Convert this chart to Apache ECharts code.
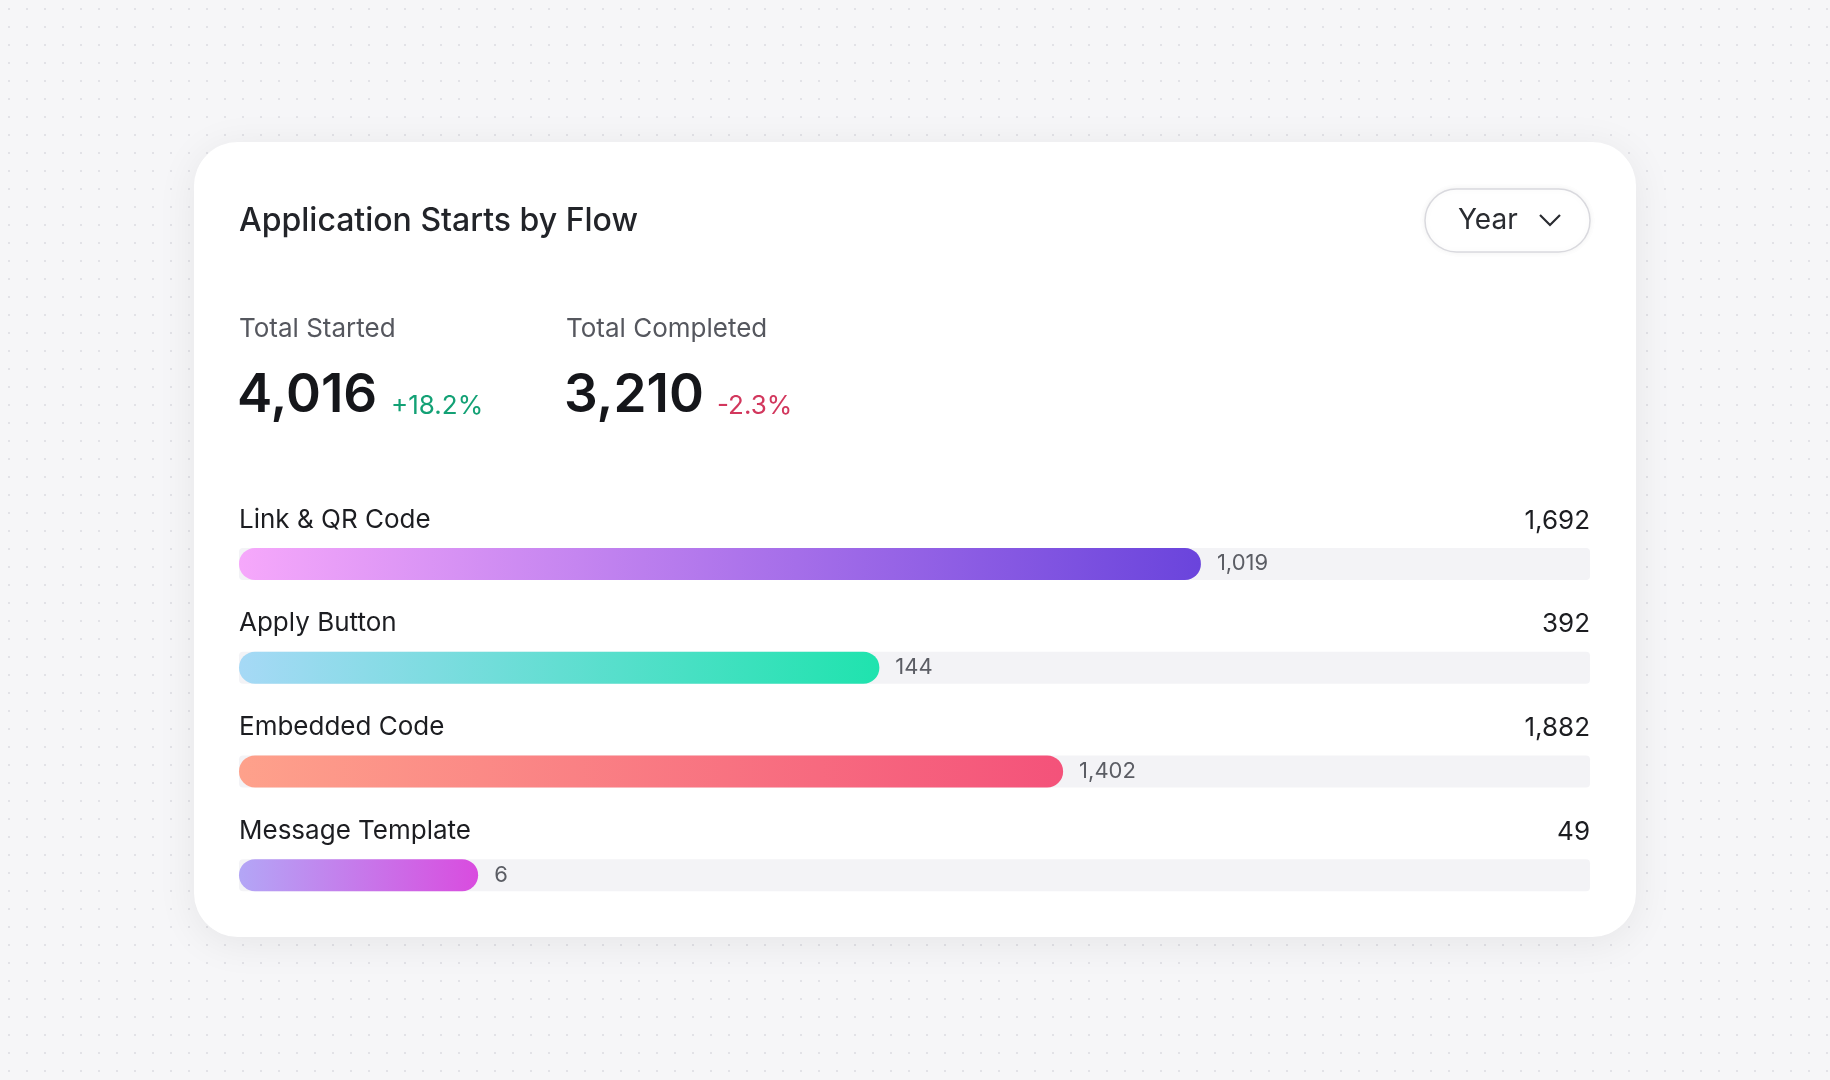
<!DOCTYPE html>
<html>
<head>
  <meta charset="utf-8">
  <title>Application Starts by Flow</title>
  <script src="https://cdn.jsdelivr.net/npm/echarts@6/dist/echarts.min.js"></script>
  <style>
    html, body { margin: 0; padding: 0; }
    body {
      width: 1830px; height: 1080px;
      background-color: #f6f6f8;
      background-image: radial-gradient(#e2e2e7 1.2px, transparent 1.3px);
      background-size: 18px 18px;
    }
    #main { width: 1830px; height: 1080px; }
  </style>
</head>
<body>
  <div id="main"></div>
  <script>
    // data
    var flows = ['Link & QR Code', 'Apply Button', 'Embedded Code', 'Message Template'];
    var totals = [1692, 392, 1882, 49];
    var completed = [1019, 144, 1402, 6];
    // fill length of each bar, percent of the track
    var fillPct = [71.2, 47.4, 61.0, 17.7];
    var gradients = [
      ['#f6a8fb', '#6a44dc'],
      ['#a6d9f6', '#1fe3ae'],
      ['#fea18b', '#f4527a'],
      ['#b3a6f6', '#d94cdf']
    ];

    var font = 'Inter, "Noto Sans", sans-serif';
    var fmt = function (v) { return v.toLocaleString('en-US'); };

    var chart = echarts.init(document.getElementById('main'));

    var option = {
      animation: false,
      textStyle: { fontFamily: font },
      graphic: [
        // card
        { type: 'rect', shape: { x: 194, y: 142, width: 1442, height: 795, r: 44 },
          style: { fill: '#fff', shadowBlur: 40, shadowColor: 'rgba(0,0,0,0.07)', shadowOffsetY: 6 }, z: -10 },
        { type: 'text', x: 239, y: 221, style: { text: 'Application Starts by Flow', fill: '#222429', font: '500 32px ' + font, textVerticalAlign: 'middle' } },
        // Year button
        { type: 'rect', shape: { x: 1425, y: 189, width: 165, height: 63, r: 31.5 },
          style: { fill: '#fff', stroke: '#d9d9de', lineWidth: 1.5, shadowBlur: 6, shadowColor: 'rgba(0,0,0,0.06)' } },
        { type: 'text', x: 1458, y: 221, style: { text: 'Year', fill: '#2a2c31', font: '400 28px ' + font, textVerticalAlign: 'middle' } },
        { type: 'polyline', shape: { points: [[1540, 215], [1550, 225], [1560, 215]] },
          style: { stroke: '#2a2c31', lineWidth: 2.2, fill: null } },
        // stats
        { type: 'text', x: 239, y: 329, style: { text: 'Total Started', fill: '#55575e', font: '400 26px ' + font, textVerticalAlign: 'middle' } },
        { type: 'text', x: 237, y: 396, style: { text: '4,016', fill: '#15161a', font: '600 53px ' + font, textVerticalAlign: 'middle' } },
        { type: 'text', x: 391, y: 406, style: { text: '+18.2%', fill: '#13a175', font: '400 26px ' + font, textVerticalAlign: 'middle' } },
        { type: 'text', x: 566, y: 329, style: { text: 'Total Completed', fill: '#55575e', font: '400 26px ' + font, textVerticalAlign: 'middle' } },
        { type: 'text', x: 564, y: 396, style: { text: '3,210', fill: '#15161a', font: '600 53px ' + font, textVerticalAlign: 'middle' } },
        { type: 'text', x: 717, y: 406, style: { text: '-2.3%', fill: '#d2375d', font: '400 26px ' + font, textVerticalAlign: 'middle' } }
      ],
      grid: { left: 239, right: 240, top: 512, bottom: 153 },
      xAxis: { type: 'value', min: 0, max: 100, show: false },
      yAxis: { type: 'category', data: flows, inverse: true, show: false },
      series: [
        {
          // track with flow name
          type: 'bar', barWidth: 32, barGap: '-100%', silent: true,
          data: flows.map(function () { return 100; }),
          itemStyle: { color: '#f3f3f6', borderRadius: 4 },
          label: {
            show: true, position: [0, -41],
            formatter: function (p) { return flows[p.dataIndex]; },
            color: '#1c1d21', fontSize: 26, fontFamily: font
          }
        },
        {
          // transparent copy carrying the total on the right
          type: 'bar', barWidth: 32, barGap: '-100%', silent: true,
          data: flows.map(function () { return 100; }),
          itemStyle: { color: 'rgba(0,0,0,0)' },
          label: {
            show: true, position: 'insideRight', offset: [5, -43],
            formatter: function (p) { return fmt(totals[p.dataIndex]); },
            color: '#1c1d21', fontSize: 26, fontFamily: font
          }
        },
        {
          type: 'bar', barWidth: 32, barGap: '-100%', silent: true,
          data: fillPct.map(function (v, i) {
            return {
              value: v,
              itemStyle: {
                borderRadius: 16,
                color: new echarts.graphic.LinearGradient(0, 0, 1, 0, [
                  { offset: 0, color: gradients[i][0] },
                  { offset: 1, color: gradients[i][1] }
                ])
              }
            };
          }),
          label: {
            show: true, position: 'right', distance: 16,
            formatter: function (p) { return fmt(completed[p.dataIndex]); },
            color: '#5b5d64', fontSize: 22, fontFamily: font
          }
        }
      ]
    };

    chart.setOption(option);
  </script>
</body>
</html>
